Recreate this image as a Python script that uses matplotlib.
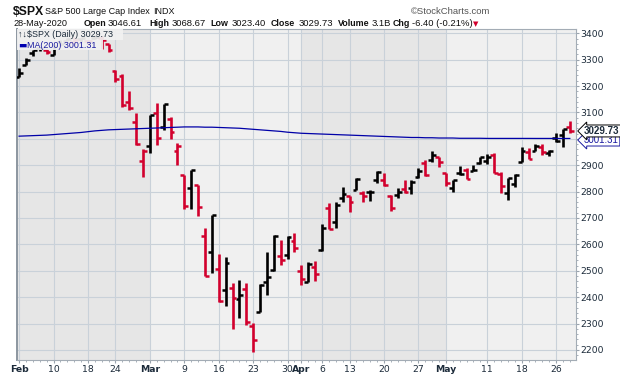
import matplotlib
matplotlib.use('Agg')
import matplotlib.pyplot as plt
from matplotlib.patches import Rectangle

# S&P 500 daily bars, Feb 3 - May 28 2020
dates = ['Feb 3', 'Feb 4', 'Feb 5', 'Feb 6', 'Feb 7', 'Feb 10', 'Feb 11', 'Feb 12', 'Feb 13', 'Feb 14',
         'Feb 18', 'Feb 19', 'Feb 20', 'Feb 21', 'Feb 24', 'Feb 25', 'Feb 26', 'Feb 27', 'Feb 28',
         'Mar 2', 'Mar 3', 'Mar 4', 'Mar 5', 'Mar 6', 'Mar 9', 'Mar 10', 'Mar 11', 'Mar 12', 'Mar 13',
         'Mar 16', 'Mar 17', 'Mar 18', 'Mar 19', 'Mar 20', 'Mar 23', 'Mar 24', 'Mar 25', 'Mar 26', 'Mar 27',
         'Mar 30', 'Mar 31',
         'Apr 1', 'Apr 2', 'Apr 3', 'Apr 6', 'Apr 7', 'Apr 8', 'Apr 9', 'Apr 13', 'Apr 14', 'Apr 15',
         'Apr 16', 'Apr 17', 'Apr 20', 'Apr 21', 'Apr 22', 'Apr 23', 'Apr 24', 'Apr 27', 'Apr 28', 'Apr 29',
         'Apr 30',
         'May 1', 'May 4', 'May 5', 'May 6', 'May 7', 'May 8', 'May 11', 'May 12', 'May 13', 'May 14',
         'May 15', 'May 18', 'May 19', 'May 20', 'May 21', 'May 22', 'May 26', 'May 27', 'May 28']

opens = [3235.66, 3280.61, 3324.91, 3344.92, 3335.54, 3318.28, 3365.87, 3370.50, 3365.90, 3378.08,
         3369.04, 3380.39, 3380.45, 3360.50, 3257.61, 3238.94, 3139.90, 3062.54, 2916.90,
         2974.28, 3096.46, 3045.75, 3075.70, 2954.20, 2863.89, 2813.48, 2825.60, 2630.86, 2569.99,
         2508.59, 2425.66, 2436.50, 2393.48, 2431.94, 2290.71, 2344.44, 2457.77, 2501.29, 2555.87,
         2558.98, 2614.69,
         2498.08, 2458.54, 2514.92, 2578.28, 2738.65, 2685.00, 2776.99, 2782.46, 2805.10, 2795.64,
         2799.34, 2842.43, 2845.62, 2784.81, 2787.89, 2810.42, 2812.64, 2854.65, 2909.96, 2918.46,
         2930.91,
         2869.09, 2815.01, 2868.88, 2883.14, 2878.26, 2908.83, 2915.46, 2939.50, 2865.86, 2794.54,
         2829.95, 2913.86, 2948.59, 2953.63, 2969.95, 2948.05, 3004.08, 3015.65, 3046.61]

highs = [3268.44, 3306.92, 3337.58, 3347.96, 3341.42, 3352.26, 3375.63, 3381.47, 3385.09, 3380.69,
         3375.01, 3393.52, 3389.15, 3360.76, 3259.81, 3246.99, 3182.51, 3097.07, 2959.72,
         3090.96, 3136.72, 3130.97, 3083.04, 2985.93, 2863.89, 2882.59, 2825.60, 2660.95, 2711.33,
         2562.98, 2553.93, 2453.57, 2466.97, 2453.01, 2300.73, 2449.71, 2571.42, 2637.01, 2615.91,
         2631.80, 2641.39,
         2522.75, 2533.22, 2538.18, 2676.85, 2756.89, 2760.75, 2818.57, 2782.46, 2851.85, 2801.88,
         2806.51, 2879.22, 2868.98, 2785.54, 2815.10, 2844.90, 2842.71, 2887.72, 2921.15, 2954.86,
         2930.91,
         2869.09, 2844.24, 2898.23, 2891.11, 2901.92, 2932.16, 2944.25, 2945.82, 2874.14, 2852.80,
         2865.01, 2968.09, 2964.21, 2980.29, 2978.50, 2956.76, 3021.72, 3036.25, 3068.67]

lows = [3235.66, 3280.61, 3313.75, 3334.39, 3322.12, 3317.77, 3352.72, 3369.72, 3360.52, 3366.15,
        3355.61, 3378.83, 3341.02, 3328.45, 3214.65, 3118.77, 3108.99, 2977.39, 2855.84,
        2945.19, 2976.63, 3034.38, 2999.83, 2901.54, 2734.43, 2734.00, 2707.22, 2478.86, 2492.37,
        2380.94, 2367.04, 2280.52, 2319.78, 2295.56, 2191.86, 2344.44, 2407.53, 2500.72, 2520.02,
        2545.28, 2571.15,
        2447.49, 2455.79, 2459.96, 2574.57, 2657.67, 2663.30, 2762.36, 2721.17, 2805.10, 2761.54,
        2764.32, 2830.88, 2820.43, 2727.10, 2775.95, 2794.26, 2791.76, 2852.89, 2860.71, 2912.16,
        2892.47,
        2821.61, 2797.85, 2863.55, 2847.65, 2876.48, 2902.88, 2903.44, 2869.59, 2793.15, 2766.64,
        2816.78, 2913.86, 2922.35, 2953.63, 2938.57, 2933.59, 2988.17, 2969.75, 3023.40]

closes = [3248.92, 3297.59, 3334.69, 3345.78, 3327.71, 3352.09, 3357.75, 3379.45, 3373.94, 3380.16,
          3370.29, 3386.15, 3373.23, 3337.75, 3225.89, 3128.21, 3116.39, 2978.76, 2954.22,
          3090.23, 3003.37, 3130.12, 3023.94, 2972.37, 2746.56, 2882.23, 2741.38, 2480.64, 2711.02,
          2386.13, 2529.19, 2398.10, 2409.39, 2304.92, 2237.40, 2447.33, 2475.56, 2630.07, 2541.47,
          2626.65, 2584.59,
          2470.50, 2526.90, 2488.65, 2663.68, 2659.41, 2749.98, 2789.82, 2761.63, 2846.06, 2783.36,
          2799.55, 2874.56, 2823.16, 2736.56, 2799.31, 2797.80, 2836.74, 2878.48, 2863.39, 2939.51,
          2912.43,
          2830.71, 2842.74, 2868.44, 2848.42, 2881.19, 2929.80, 2930.32, 2870.12, 2820.00, 2852.50,
          2863.70, 2953.91, 2922.94, 2971.61, 2948.51, 2955.45, 2991.77, 3036.13, 3029.73]

prior_close = 3225.52  # Jan 31 close, colours the first bar

ma200 = [3010, 3011, 3012, 3013, 3014, 3016, 3018, 3020, 3022, 3024,
         3027, 3030, 3032, 3034, 3035, 3036, 3037, 3038, 3039,
         3040, 3041, 3042, 3043, 3044, 3045, 3045, 3045, 3044, 3044,
         3043, 3042, 3041, 3040, 3038, 3036, 3034, 3032, 3030, 3028,
         3025, 3023,
         3021, 3020, 3019, 3018, 3017, 3016, 3015, 3014, 3013, 3012,
         3011, 3010, 3009, 3008, 3007, 3006, 3005, 3005, 3004, 3004,
         3003,
         3003, 3003, 3002, 3002, 3002, 3002, 3001.5, 3001.5, 3001.5, 3001.5,
         3001.5, 3001.5, 3001.5, 3001.4, 3001.4, 3001.4, 3001.3, 3001.3, 3001.31]

tick_dates = ['Feb 3', 'Feb 10', 'Feb 18', 'Feb 24', 'Mar 2', 'Mar 9', 'Mar 16', 'Mar 23', 'Mar 30',
              'Apr 1', 'Apr 6', 'Apr 13', 'Apr 20', 'Apr 27', 'May 1', 'May 11', 'May 18', 'May 26']
tick_labels = ['Feb', '10', '18', '24', 'Mar', '9', '16', '23', '30',
               'Apr', '6', '13', '20', '27', 'May', '11', '18', '26']
month_labels = ['Feb', 'Mar', 'Apr', 'May']
month_starts = ['Feb 3', 'Mar 2', 'Apr 1', 'May 1']
month_shades = ['#e6e6e6', '#f0f0f0', '#e6e6e6', '#f0f0f0']
y_ticks = [2200, 2300, 2400, 2500, 2600, 2700, 2800, 2900, 3000, 3100, 3200, 3300, 3400]

W, H = 620, 376
UP, DOWN = 'black', '#d2002d'
TXT = '#1c2b3a'
GRID = '#c9d1d9'
FAM = ['Liberation Sans', 'DejaVu Sans']

fig = plt.figure(figsize=(W / 100, H / 100), dpi=100)
fig.patch.set_facecolor('white')
AX_L, AX_R, AX_T, AX_B = 16.7, 576, 29, 360
ax = fig.add_axes([AX_L / W, (H - AX_B) / H, (AX_R - AX_L) / W, (AX_B - AX_T) / H])


def axfrac(px, py):
    # pixel position -> axes fraction
    return (px - AX_L) / (AX_R - AX_L), (AX_B - py) / (AX_B - AX_T)


n = len(dates)
x = list(range(n))
ax.set_xlim(-0.35, 80.9)
ax.set_ylim(2162, 3416)

# alternate month shading
starts = [dates.index(d) for d in month_starts] + [n + 2]
for i, c in enumerate(month_shades):
    ax.axvspan(starts[i] - (1 if i == 0 else 0), starts[i + 1], color=c, lw=0, zorder=0)

# grid
ax.set_xticks([dates.index(d) for d in tick_dates])
ax.set_xticks(x, minor=True)
ax.set_yticks(y_ticks)
ax.set_yticks(range(2180, 3420, 20), minor=True)
ax.grid(True, which='major', color=GRID, lw=0.8, zorder=1)
ax.set_axisbelow(True)

# OHLC bars
prev = [prior_close] + closes[:-1]
cols = [UP if c >= p else DOWN for c, p in zip(closes, prev)]
ax.vlines(x, lows, highs, colors=cols, lw=1.9, zorder=3)
ax.hlines(opens, [i - 0.56 for i in x], x, colors=cols, lw=1.8, zorder=3)
ax.hlines(closes, x, [i + 0.56 for i in x], colors=cols, lw=1.8, zorder=3)

# 200 day moving average
ax.plot(x, ma200, color='#0000a8', lw=0.9, zorder=4)

# axes styling
ax.yaxis.tick_right()
ax.set_xticklabels(tick_labels)
for lab in ax.get_xticklabels():
    lab.set_fontweight('bold' if lab.get_text() in month_labels else 'normal')
ax.tick_params(axis='x', which='major', length=2, pad=1.5, labelsize=6.7, labelcolor=TXT, color='#9aa4ae')
ax.tick_params(axis='x', which='minor', length=1.2, color='#9aa4ae')
ax.tick_params(axis='y', which='major', length=2.5, pad=0.8, labelsize=6.7, labelcolor=TXT, color='#9aa4ae')
ax.tick_params(axis='y', which='minor', length=1.2, color='#9aa4ae')
for s in ax.spines.values():
    s.set_color('#a3acb5')
    s.set_linewidth(0.8)
ax.spines['left'].set_color('#8c96a0')
ax.spines['left'].set_linewidth(1.4)

# in-chart legend, on a pale backing that hides the bars below it
x0, y0 = axfrac(AX_L, 39.5)
x1, y1 = axfrac(123, AX_T)
ax.add_patch(Rectangle((x0, y0), x1 - x0, y1 - y0, transform=ax.transAxes,
                       fc='#f1f1f1', ec='none', alpha=0.93, zorder=5))
x0, y0 = axfrac(AX_L, 50)
x1, y1 = axfrac(103, 39.5)
ax.add_patch(Rectangle((x0, y0), x1 - x0, y1 - y0, transform=ax.transAxes,
                       fc='#f1f1f1', ec='none', alpha=0.93, zorder=5))
lx, ly = axfrac(18, 30)
ax.text(lx, ly, '↑↓$SPX (Daily) 3029.73', transform=ax.transAxes, ha='left', va='top',
        fontsize=6.4, color=TXT, family=FAM, zorder=6)
lx, ly = axfrac(18, 40.5)
ax.text(lx, ly, '▬', transform=ax.transAxes, ha='left', va='top',
        fontsize=6.4, color='#0000b0', family='DejaVu Sans', zorder=6)
lx, ly = axfrac(27, 40.5)
ax.text(lx, ly, 'MA(200) 3001.31', transform=ax.transAxes, ha='left', va='top',
        fontsize=6.4, color='#1a1aa0', family=FAM, zorder=6)

# last value tags on the price axis
ytr = ax.get_yaxis_transform()
tag_x = axfrac(584, 0)[0]
ax.text(tag_x, ma200[-1] - 6, f'{ma200[-1]:.2f}', transform=ytr, ha='left', va='center',
        fontsize=7, color='#1a1aa0', family=FAM, clip_on=False, zorder=8,
        bbox=dict(boxstyle='larrow,pad=0.1', fc='white', ec='#1a1aa0', lw=0.7))
ax.text(tag_x, closes[-1], f'{closes[-1]:.2f}', transform=ytr, ha='left', va='center',
        fontsize=7, weight='bold', color=TXT, family=FAM, clip_on=False, zorder=9,
        bbox=dict(boxstyle='larrow,pad=0.1', fc='white', ec='black', lw=0.7))


# header
def hdr(px, py, s, **kw):
    kw.setdefault('family', FAM)
    kw.setdefault('color', '#111111')
    fig.text(px / W, 1 - py / H, s, ha='left', va='baseline', **kw)


hdr(13, 15, '$SPX', fontsize=8.8, weight='bold')
hdr(45, 14, 'S&P 500 Large Cap Index', fontsize=6.5)
hdr(153, 14, 'INDX', fontsize=6.5)
hdr(411, 14, '©StockCharts.com', fontsize=6.8, color='#555555')
hdr(13, 26, '28-May-2020', fontsize=6.6)
header_parts = [(84, 'Open', True), (108, '3046.61', False), (149, 'High', True), (172, '3068.67', False),
                (210, 'Low', True), (232, '3023.40', False), (271, 'Close', True), (299, '3029.73', False),
                (338, 'Volume', True), (372, '3.1B', False), (393, 'Chg', True), (412, '-6.40 (-0.21%)', False)]
for px, s, b in header_parts:
    hdr(px, 26, s, fontsize=6.4 if b else 6.8, weight='bold' if b else 'normal')
hdr(473, 26, '▼', fontsize=5, color=DOWN, family='DejaVu Sans')

fig.savefig('out.png', dpi=100)
